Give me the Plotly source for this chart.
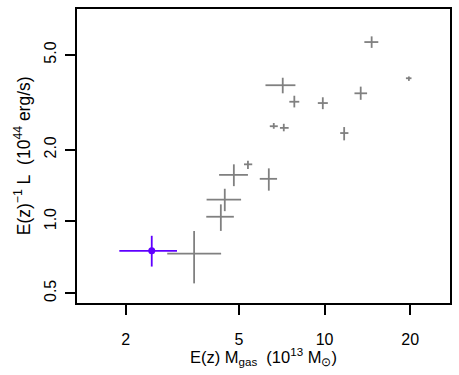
import plotly.graph_objects as go
import numpy as np

# Grey sample (x = E(z) Mgas [1e13 Msun], y = E(z)^-1 L [1e44 erg/s])
gx     = [3.48, 4.32, 4.46, 4.80, 5.38, 6.37, 7.13, 7.83, 9.86, 13.40, 6.63, 7.19, 11.72, 14.64, 19.79]
gx_lo  = [2.80, 3.84, 3.85, 4.26, 5.21, 5.92, 6.20, 7.52, 9.47, 12.74, 6.42, 6.97, 11.35, 13.80, 19.32]
gx_hi  = [4.33, 4.80, 5.09, 5.38, 5.57, 6.81, 7.90, 8.15, 10.27, 14.11, 6.85, 7.48, 12.13, 15.45, 20.21]
gy     = [0.733, 1.047, 1.236, 1.569, 1.737, 1.51, 3.73, 3.18, 3.14, 3.45, 2.51, 2.47, 2.35, 5.66, 3.99]
gy_lo  = [0.550, 0.913, 1.105, 1.407, 1.662, 1.347, 3.45, 3.01, 2.96, 3.24, 2.45, 2.39, 2.19, 5.35, 3.89]
gy_hi  = [0.912, 1.18, 1.372, 1.737, 1.80, 1.671, 4.01, 3.37, 3.32, 3.68, 2.59, 2.57, 2.49, 5.98, 4.06]

# Highlighted object
px_, px_lo, px_hi = [2.47], [1.90], [3.03]
py_, py_lo, py_hi = [0.753], [0.647], [0.871]

x_ticks = [2, 5, 10, 20]
x_ticktext = ["2", "5", "10", "20"]
y_ticks = [0.5, 1.0, 2.0, 5.0]
y_ticktext = ["0.5", "1.0", "2.0", "5.0"]

NB = "\u00a0"
x_title = f"E(z){NB}M<sub>gas</sub>{NB}{NB}(10<sup>13</sup>{NB}M<sub>⊙</sub>)"
y_title = f"E(z)<sup>−1</sup>{NB}L{NB}{NB}(10<sup>44</sup>{NB}erg/s)"

GREY = "#808080"
PURPLE = "#5F00FF"


def errs(v, lo, hi):
    v = np.array(v); lo = np.array(lo); hi = np.array(hi)
    return (hi - v).tolist(), (v - lo).tolist()


fig = go.Figure()

gxp, gxm = errs(gx, gx_lo, gx_hi)
gyp, gym = errs(gy, gy_lo, gy_hi)
fig.add_trace(go.Scatter(
    x=gx, y=gy, mode="markers",
    marker=dict(size=1, color=GREY, opacity=0),
    error_x=dict(type="data", symmetric=False, array=gxp, arrayminus=gxm,
                 color=GREY, thickness=1.8, width=0),
    error_y=dict(type="data", symmetric=False, array=gyp, arrayminus=gym,
                 color=GREY, thickness=1.8, width=0),
    showlegend=False, hoverinfo="skip"))

pxp, pxm = errs(px_, px_lo, px_hi)
pyp, pym = errs(py_, py_lo, py_hi)
fig.add_trace(go.Scatter(
    x=px_, y=py_, mode="markers",
    marker=dict(size=7, color=PURPLE),
    error_x=dict(type="data", symmetric=False, array=pxp, arrayminus=pxm,
                 color=PURPLE, thickness=1.8, width=0),
    error_y=dict(type="data", symmetric=False, array=pyp, arrayminus=pym,
                 color=PURPLE, thickness=1.8, width=0),
    showlegend=False, hoverinfo="skip"))

FONT = "Liberation Sans, Arial, sans-serif"
L, R, T, B = 77, 7, 7, 72
W, H = 459, 375
pw, ph = W - L - R, H - T - B

fig.update_layout(
    width=W, height=H,
    margin=dict(l=L, r=R, t=T, b=B),
    paper_bgcolor="white", plot_bgcolor="white",
    font=dict(family=FONT, size=16, color="black"),
    xaxis=dict(
        type="log", range=[np.log10(1.349), np.log10(27.6)],
        tickvals=x_ticks, ticktext=x_ticktext,
        ticks="outside", ticklen=10, tickwidth=1.5, tickcolor="black",
        showgrid=False, zeroline=False,
        showline=True, mirror=True, linecolor="black", linewidth=2,
        ticklabelstandoff=11,
        tickfont=dict(size=16),
    ),
    yaxis=dict(
        type="log", range=[np.log10(0.455), np.log10(7.79)],
        tickvals=y_ticks, ticktext=y_ticktext,
        ticks="outside", ticklen=10, tickwidth=1.5, tickcolor="black",
        tickangle=-90,
        showgrid=False, zeroline=False,
        showline=True, mirror=True, linecolor="black", linewidth=2,
        ticklabelstandoff=3,
        tickfont=dict(size=16),
    ),
    annotations=[
        dict(text=x_title, xref="paper", yref="paper",
             x=0.5, y=-(357 - (T + ph)) / ph, xanchor="center", yanchor="middle",
             showarrow=False, font=dict(size=16.5)),
        dict(text=y_title, xref="paper", yref="paper",
             x=-(L - 22) / pw, y=0.5, xanchor="center", yanchor="middle",
             textangle=-90, showarrow=False, font=dict(size=17.5)),
    ],
)

fig.write_html("out.html")
